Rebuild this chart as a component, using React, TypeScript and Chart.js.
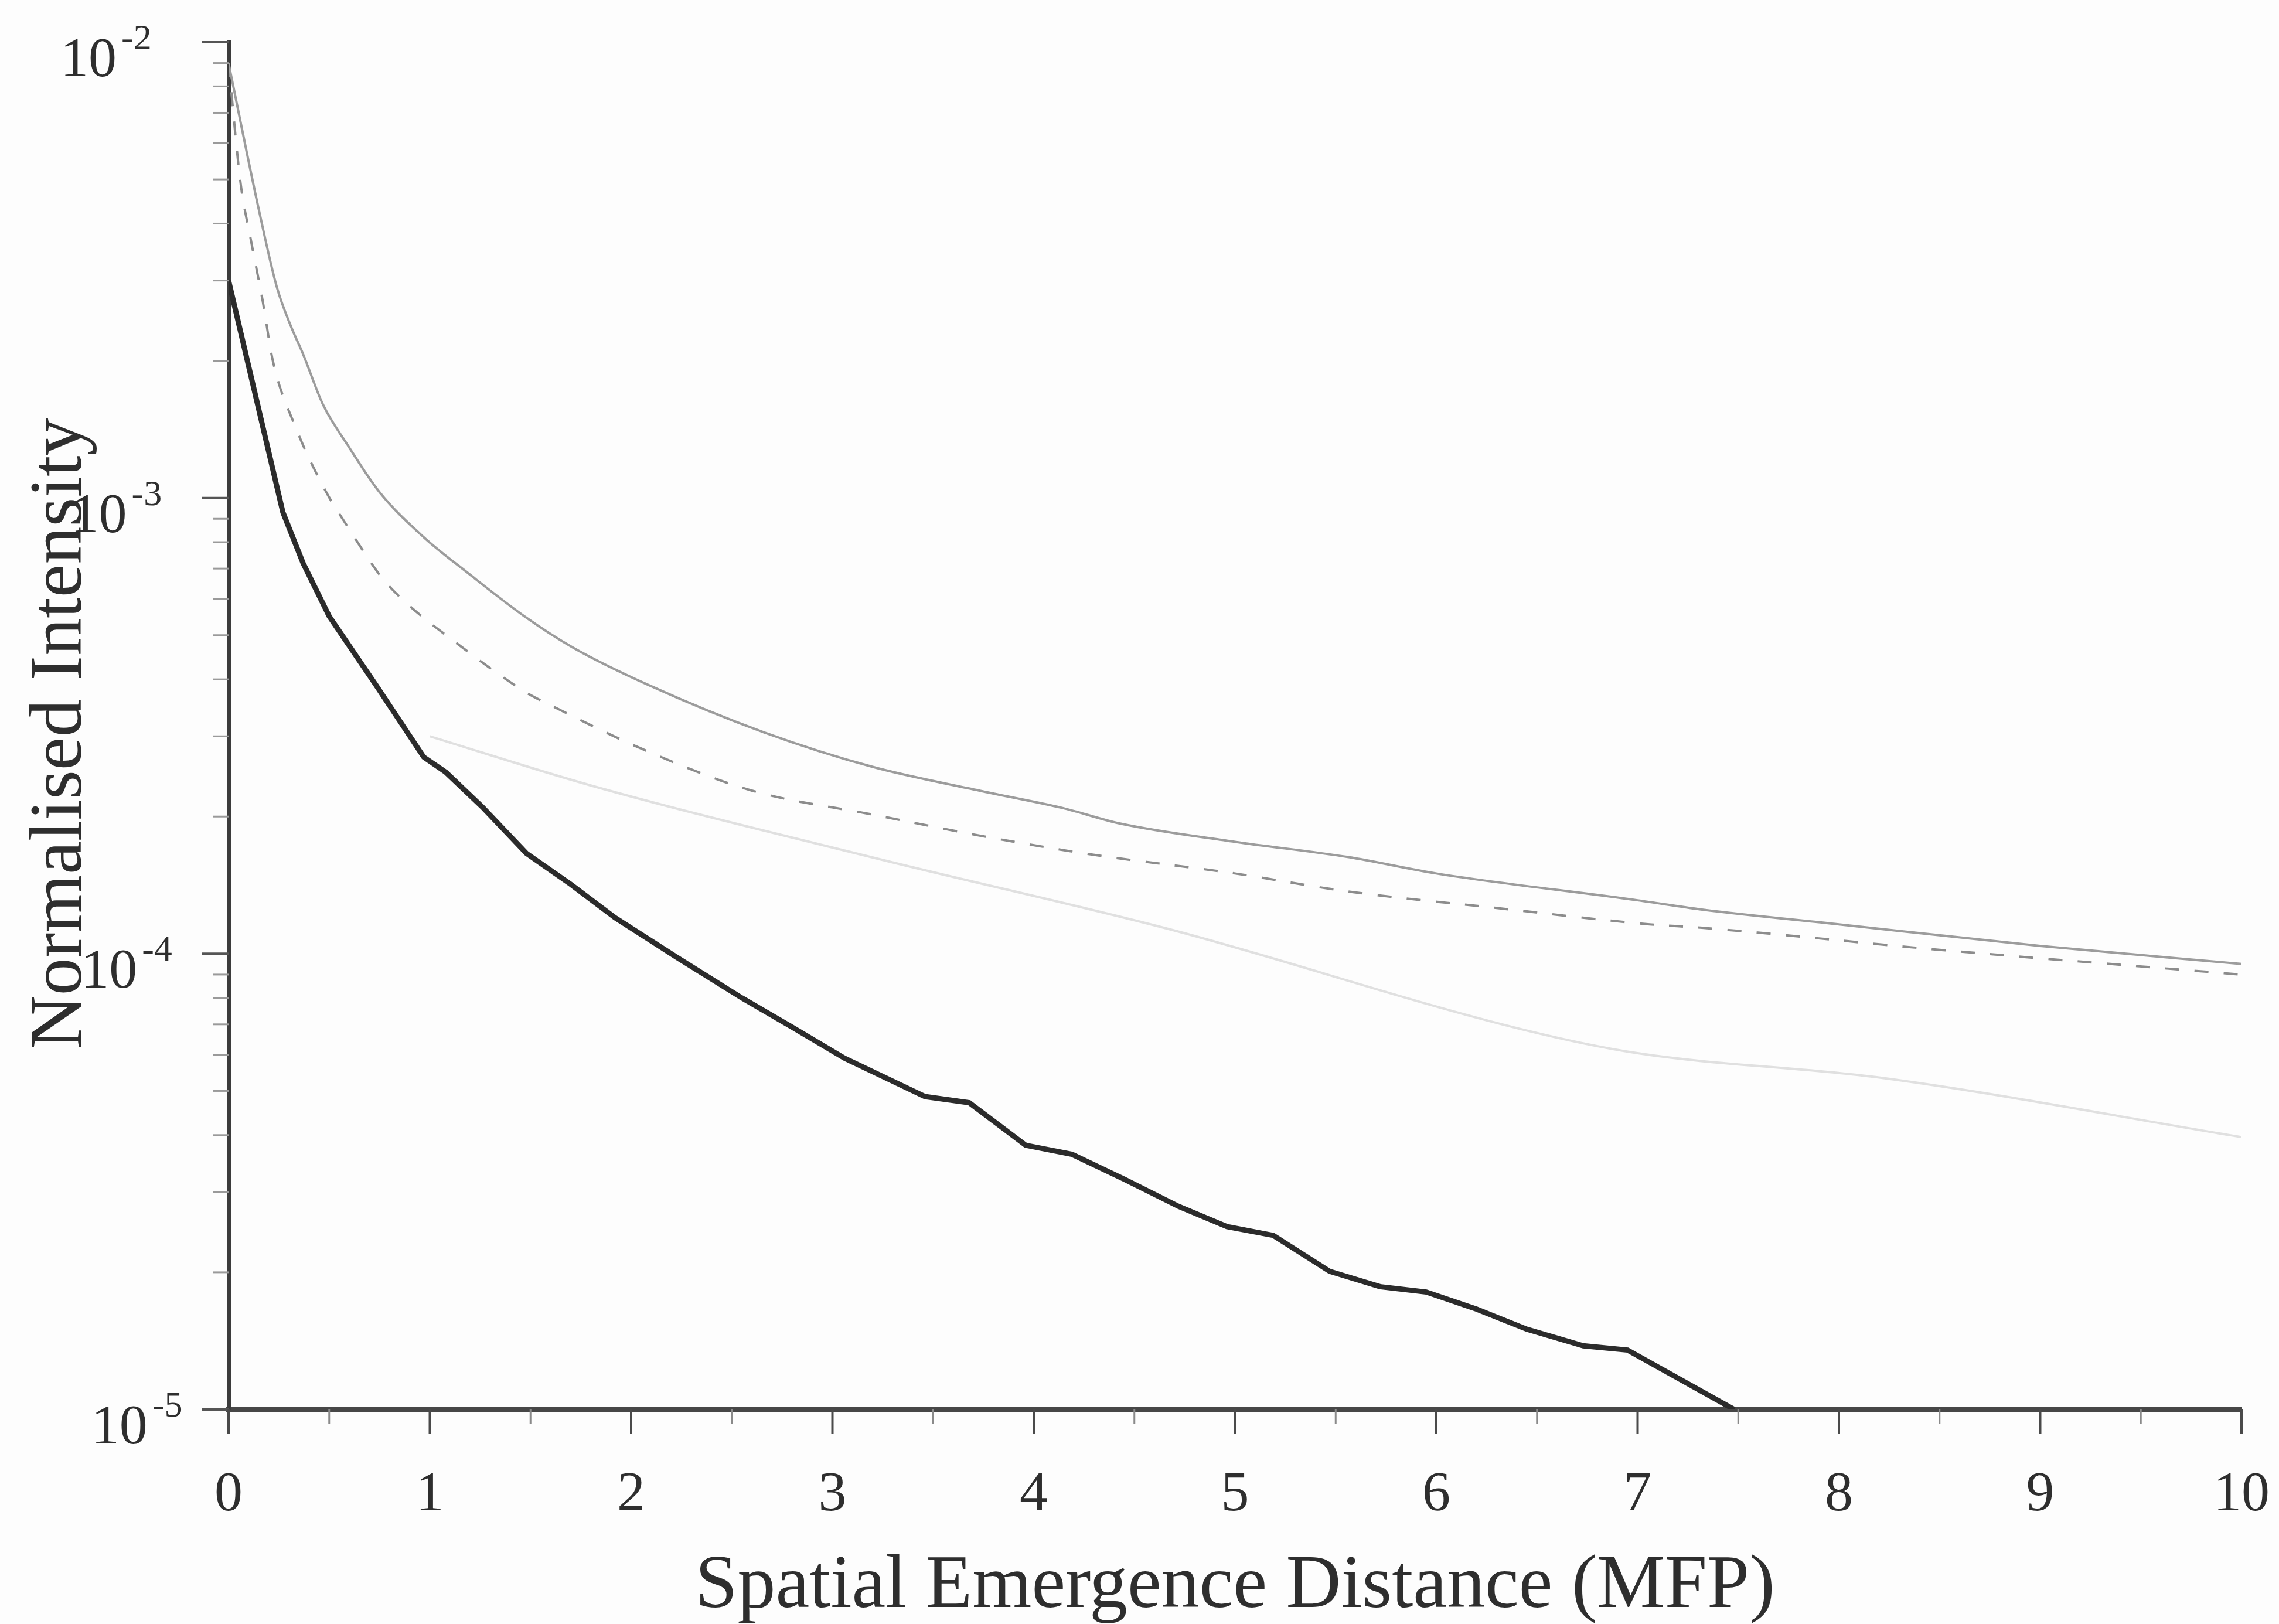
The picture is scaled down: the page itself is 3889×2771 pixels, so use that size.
import React, { useEffect, useRef } from 'react';
import { Chart, registerables } from 'chart.js';

Chart.register(...registerables);

const W = 3889;
const H = 2771;

// Black solid curve
const blackX = [0, 0.27, 0.37, 0.5, 0.73, 0.97, 1.08, 1.26, 1.48, 1.7, 1.92, 2.23, 2.55, 2.8, 3.06, 3.46, 3.68, 3.96, 4.19, 4.45, 4.72, 4.96, 5.19, 5.47, 5.72, 5.95, 6.2, 6.45, 6.73, 6.95, 7.48];
const blackY = [3.0e-3, 9.3e-4, 7.2e-4, 5.5e-4, 3.9e-4, 2.7e-4, 2.5e-4, 2.1e-4, 1.66e-4, 1.42e-4, 1.2e-4, 9.8e-5, 8.0e-5, 6.9e-5, 5.9e-5, 4.86e-5, 4.71e-5, 3.8e-5, 3.63e-5, 3.2e-5, 2.79e-5, 2.52e-5, 2.41e-5, 2.01e-5, 1.86e-5, 1.81e-5, 1.66e-5, 1.5e-5, 1.38e-5, 1.35e-5, 1.0e-5];

// Light grey solid (top) curve
const topX = [0, 0.15, 0.24, 0.31, 0.37, 0.47, 0.59, 0.75, 0.97, 1.19, 1.47, 1.71, 2.09, 2.66, 3.2, 3.75, 4.14, 4.43, 5.0, 5.56, 6.0, 7.0, 7.32, 8.0, 9.0, 10];
const topY = [9.0e-3, 4.3e-3, 2.9e-3, 2.38e-3, 2.07e-3, 1.6e-3, 1.31e-3, 1.03e-3, 8.2e-4, 6.84e-4, 5.5e-4, 4.7e-4, 3.88e-4, 3.06e-4, 2.57e-4, 2.27e-4, 2.09e-4, 1.93e-4, 1.76e-4, 1.63e-4, 1.5e-4, 1.31e-4, 1.25e-4, 1.16e-4, 1.04e-4, 9.5e-5];

// Grey dashed curve
const dashX = [0, 0.06, 0.11, 0.17, 0.22, 0.33, 0.48, 0.59, 0.76, 0.88, 1.12, 1.48, 1.6, 2.05, 2.6, 3.2, 3.75, 4.25, 5.0, 5.56, 6.3, 7.06, 7.32, 8.5, 10];
const dashY = [9.0e-3, 4.9e-3, 3.7e-3, 2.7e-3, 2.0e-3, 1.44e-3, 1.04e-3, 8.67e-4, 6.7e-4, 5.9e-4, 4.85e-4, 3.74e-4, 3.51e-4, 2.82e-4, 2.28e-4, 2.02e-4, 1.81e-4, 1.66e-4, 1.5e-4, 1.37e-4, 1.26e-4, 1.16e-4, 1.14e-4, 1.02e-4, 9.0e-5];

// Very faint curve
const faintX = [1.0, 1.8, 3.24, 4.68, 6.44, 7.0, 8.2, 10];
const faintY = [3.0e-4, 2.34e-4, 1.61e-4, 1.13e-4, 6.8e-5, 6.05e-5, 5.35e-5, 3.96e-5];

// Axes
const xTickValues = [0, 1, 2, 3, 4, 5, 6, 7, 8, 9, 10];
const xTickLabels = ['0', '1', '2', '3', '4', '5', '6', '7', '8', '9', '10'];
const yTickExponents = [-2, -3, -4, -5];
const xTitle = 'Spatial Emergence Distance (MFP)';
const yTitle = 'Normalised Intensity';

const pts = (xs: number[], ys: number[]) => xs.map((x, i) => ({ x, y: ys[i] }));

const FONT = "'Liberation Serif', 'Times New Roman', serif";
const TEXT = '#2e2e2e';

const decorPlugin = {
  id: 'decor',
  beforeDraw(chart: any) {
    const ctx = chart.ctx;
    ctx.save();
    ctx.fillStyle = '#fdfdfd';
    ctx.fillRect(0, 0, chart.width, chart.height);
    ctx.restore();
  },
  afterDraw(chart: any) {
    const ctx = chart.ctx;
    const xs = chart.scales.x;
    const ys = chart.scales.y;
    const area = chart.chartArea;
    ctx.save();
    ctx.lineCap = 'butt';
    // y minor ticks
    ctx.strokeStyle = '#9a9a9a';
    ctx.lineWidth = 3;
    for (let e = -5; e < -2; e++) {
      for (let m = 2; m <= 9; m++) {
        const py = ys.getPixelForValue(m * Math.pow(10, e));
        ctx.beginPath();
        ctx.moveTo(area.left - 26, py);
        ctx.lineTo(area.left, py);
        ctx.stroke();
      }
    }
    // y major ticks
    ctx.strokeStyle = '#555';
    ctx.lineWidth = 4;
    yTickExponents.forEach((e) => {
      const py = ys.getPixelForValue(Math.pow(10, e));
      ctx.beginPath();
      ctx.moveTo(area.left - 46, py);
      ctx.lineTo(area.left, py);
      ctx.stroke();
    });
    // x ticks
    xTickValues.forEach((v, i) => {
      const px = xs.getPixelForValue(v);
      ctx.strokeStyle = '#4a4a4a';
      ctx.lineWidth = 4;
      ctx.beginPath();
      ctx.moveTo(px, area.bottom);
      ctx.lineTo(px, area.bottom + 42);
      ctx.stroke();
      if (i < xTickValues.length - 1) {
        const pm = xs.getPixelForValue(v + 0.5);
        ctx.strokeStyle = '#8a8a8a';
        ctx.lineWidth = 3;
        ctx.beginPath();
        ctx.moveTo(pm, area.bottom);
        ctx.lineTo(pm, area.bottom + 24);
        ctx.stroke();
      }
    });
    // x tick labels
    ctx.fillStyle = TEXT;
    ctx.font = `96px ${FONT}`;
    ctx.textAlign = 'center';
    ctx.textBaseline = 'alphabetic';
    xTickValues.forEach((v, i) => {
      const px = xs.getPixelForValue(v);
      ctx.fillText(xTickLabels[i], px, area.bottom + 172);
    });
    // y tick labels (10^n)
    yTickExponents.forEach((e) => {
      const py = ys.getPixelForValue(Math.pow(10, e));
      const rx = 199 + (py - 71) * 0.0226;
      ctx.font = `96px ${FONT}`;
      ctx.textAlign = 'right';
      ctx.fillText('10', rx, py + 58);
      ctx.font = `62px ${FONT}`;
      ctx.textAlign = 'left';
      ctx.fillText('-' + String(-e), rx + 8, py + 12);
    });
    // titles
    ctx.font = `130px ${FONT}`;
    ctx.textAlign = 'center';
    ctx.fillText(xTitle, (area.left + area.right) / 2, 2742);
    ctx.save();
    ctx.translate(138, 1252);
    ctx.rotate(-Math.PI / 2);
    ctx.font = `128px ${FONT}`;
    ctx.fillText(yTitle, 0, 0);
    ctx.restore();
    ctx.restore();
  },
};

export default function App() {
  const ref = useRef<HTMLCanvasElement>(null);
  useEffect(() => {
    const chart = new Chart(ref.current as HTMLCanvasElement, {
      type: 'line',
      data: {
        datasets: [
          {
            label: 'faint',
            data: pts(faintX, faintY),
            borderColor: '#e0e0e0',
            borderWidth: 4,
            pointRadius: 0,
            cubicInterpolationMode: 'monotone',
          },
          {
            label: 'top',
            data: pts(topX, topY),
            borderColor: '#9c9c9c',
            borderWidth: 4,
            pointRadius: 0,
            cubicInterpolationMode: 'monotone',
          },
          {
            label: 'dashed',
            data: pts(dashX, dashY),
            borderColor: '#8c8c8c',
            borderWidth: 4,
            borderDash: [24, 26],
            pointRadius: 0,
            cubicInterpolationMode: 'monotone',
          },
          {
            label: 'black',
            data: pts(blackX, blackY),
            borderColor: '#2b2b2b',
            borderWidth: 9,
            pointRadius: 0,
            tension: 0,
          },
        ],
      },
      options: {
        animation: false,
        responsive: false,
        devicePixelRatio: 1,
        layout: { padding: { left: 390, right: 64, top: 72, bottom: 366 } },
        plugins: { legend: { display: false }, tooltip: { enabled: false } },
        scales: {
          x: {
            type: 'linear',
            min: 0,
            max: 10,
            grid: { display: false, drawTicks: false },
            ticks: { display: false },
            border: { display: true, color: '#474747', width: 9 },
          },
          y: {
            type: 'logarithmic',
            min: 1e-5,
            max: 1e-2,
            grid: { display: false, drawTicks: false },
            ticks: { display: false },
            border: { display: true, color: '#3c3c3c', width: 7 },
          },
        },
      },
      plugins: [decorPlugin],
    });
    return () => chart.destroy();
  }, []);
  return (
    <canvas
      ref={ref}
      width={W}
      height={H}
      style={{ position: 'absolute', left: 0, top: 0, width: W, height: H }}
    />
  );
}
